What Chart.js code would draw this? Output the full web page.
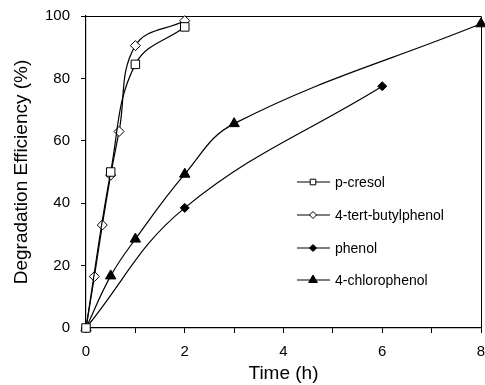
<!DOCTYPE html>
<html>
<head>
<meta charset="utf-8">
<script src="https://cdn.jsdelivr.net/npm/chart.js@4/dist/chart.umd.min.js"></script>
<style>
  html, body { margin: 0; padding: 0; background: #fff; }
  #wrap { width: 485px; height: 385px; }
</style>
</head>
<body>
<div id="wrap"><canvas id="myChart" width="485" height="385"></canvas></div>
<script>
// data
var timeCresol = [0, 0.5, 1, 2];
var cresol = [0, 50, 84.5, 96.5];
var timeButyl = [0, 0.17, 0.33, 0.5, 0.67, 1, 2];
var butyl = [0, 16.5, 33, 49, 63, 90.5, 98.5];
var timePhenol = [0, 2, 6];
var phenol = [0, 38.5, 77.5];
var timeChloro = [0, 0.5, 1, 2, 3, 8];
var chloro = [0, 16.7, 28.5, 49.3, 65.5, 97.5];

var FONT = "'Liberation Sans', Arial, sans-serif";

var toXY = function(xs, ys) {
  return xs.map(function(x, i) { return { x: x, y: ys[i] }; });
};

var series = function(label, xs, ys, style, radius, fill) {
  return {
    label: label,
    data: toXY(xs, ys),
    borderColor: "#000",
    borderWidth: 1.2,
    pointStyle: style,
    pointRadius: radius,
    pointHoverRadius: radius,
    pointBorderWidth: 1,
    pointBorderColor: "#000",
    pointBackgroundColor: fill,
    tension: 0.4,
    clip: false
  };
};

// legend drawn inside the plot, like the original
var insideLegend = {
  id: "insideLegend",
  afterDraw: function(chart) {
    var c = chart.ctx;
    var rows = [182, 215, 248, 280];
    var sizes = [3.5, 3.5, 3.5, 5];
    c.save();
    chart.data.datasets.forEach(function(ds, i) {
      var y = rows[i];
      c.strokeStyle = "#000";
      c.lineWidth = 1.2;
      c.beginPath();
      c.moveTo(297, y);
      c.lineTo(330, y);
      c.stroke();
      var x = 313, r = sizes[i];
      c.beginPath();
      if (ds.pointStyle === "rect") {
        var s = r * 0.8;
        c.rect(x - s, y - s, 2 * s, 2 * s);
      } else if (ds.pointStyle === "rectRot") {
        c.moveTo(x - r, y); c.lineTo(x, y - r); c.lineTo(x + r, y); c.lineTo(x, y + r); c.closePath();
      } else {
        c.moveTo(x, y - r); c.lineTo(x + r * 0.87, y + r * 0.5); c.lineTo(x - r * 0.87, y + r * 0.5); c.closePath();
      }
      c.fillStyle = ds.pointBackgroundColor;
      c.fill();
      c.lineWidth = 1;
      c.stroke();
      c.fillStyle = "#000";
      c.font = "14px " + FONT;
      c.textBaseline = "middle";
      c.textAlign = "left";
      c.fillText(ds.label, 335, y + 1);
    });
    c.restore();
  }
};

// top and right border of the plot box
var boxBorder = {
  id: "boxBorder",
  beforeDatasetsDraw: function(chart) {
    var a = chart.chartArea, c = chart.ctx;
    c.save();
    c.strokeStyle = "#000";
    c.lineWidth = 1;
    c.beginPath();
    c.moveTo(a.left, a.top + 0.5);
    c.lineTo(a.right + 0.5, a.top + 0.5);
    c.lineTo(a.right + 0.5, a.bottom);
    c.stroke();
    c.restore();
  }
};

var ctx = document.getElementById("myChart");
var myChart = new Chart(ctx, {
  type: "line",
  data: {
    datasets: [
      series("p-cresol", timeCresol, cresol, "rect", 6, "#fff"),
      series("4-tert-butylphenol", timeButyl, butyl, "rectRot", 5, "#fff"),
      series("phenol", timePhenol, phenol, "rectRot", 4.5, "#000"),
      series("4-chlorophenol", timeChloro, chloro, "triangle", 6, "#000")
    ]
  },
  options: {
    responsive: false,
    animation: false,
    layout: { autoPadding: false, padding: { top: 16, right: 4, left: 0, bottom: 0 } },
    plugins: {
      legend: { display: false },
      tooltip: { enabled: false }
    },
    scales: {
      x: {
        type: "linear",
        min: 0,
        max: 8,
        afterFit: function(scale) {
          scale.height = 57;
          scale.paddingLeft = 0;
          scale.paddingRight = 0;
        },
        ticks: {
          stepSize: 1,
          padding: 10,
          color: "#000",
          font: { family: FONT, size: 15 },
          maxRotation: 0,
          callback: function(v) { return v % 2 === 0 ? v : ""; }
        },
        grid: { drawOnChartArea: false, tickLength: 5, color: "#000", tickColor: "#000" },
        border: { color: "#000", width: 1.2 },
        title: {
          display: true,
          text: "Time (h)",
          color: "#000",
          font: { family: FONT, size: 19 },
          padding: { top: 0, bottom: 0 }
        }
      },
      y: {
        min: 0,
        max: 100,
        afterFit: function(scale) {
          scale.width = 86;
          scale.paddingTop = 0;
          scale.paddingBottom = 0;
        },
        ticks: {
          stepSize: 20,
          padding: 11,
          color: "#000",
          font: { family: FONT, size: 15 }
        },
        grid: { drawOnChartArea: false, tickLength: 5, color: "#000", tickColor: "#000" },
        border: { color: "#000", width: 1.2 },
        title: {
          display: true,
          text: "Degradation Efficiency (%)",
          color: "#000",
          font: { family: FONT, size: 19 },
          padding: { top: 10, bottom: 0 }
        }
      }
    }
  },
  plugins: [boxBorder, insideLegend]
});
</script>
</body>
</html>
